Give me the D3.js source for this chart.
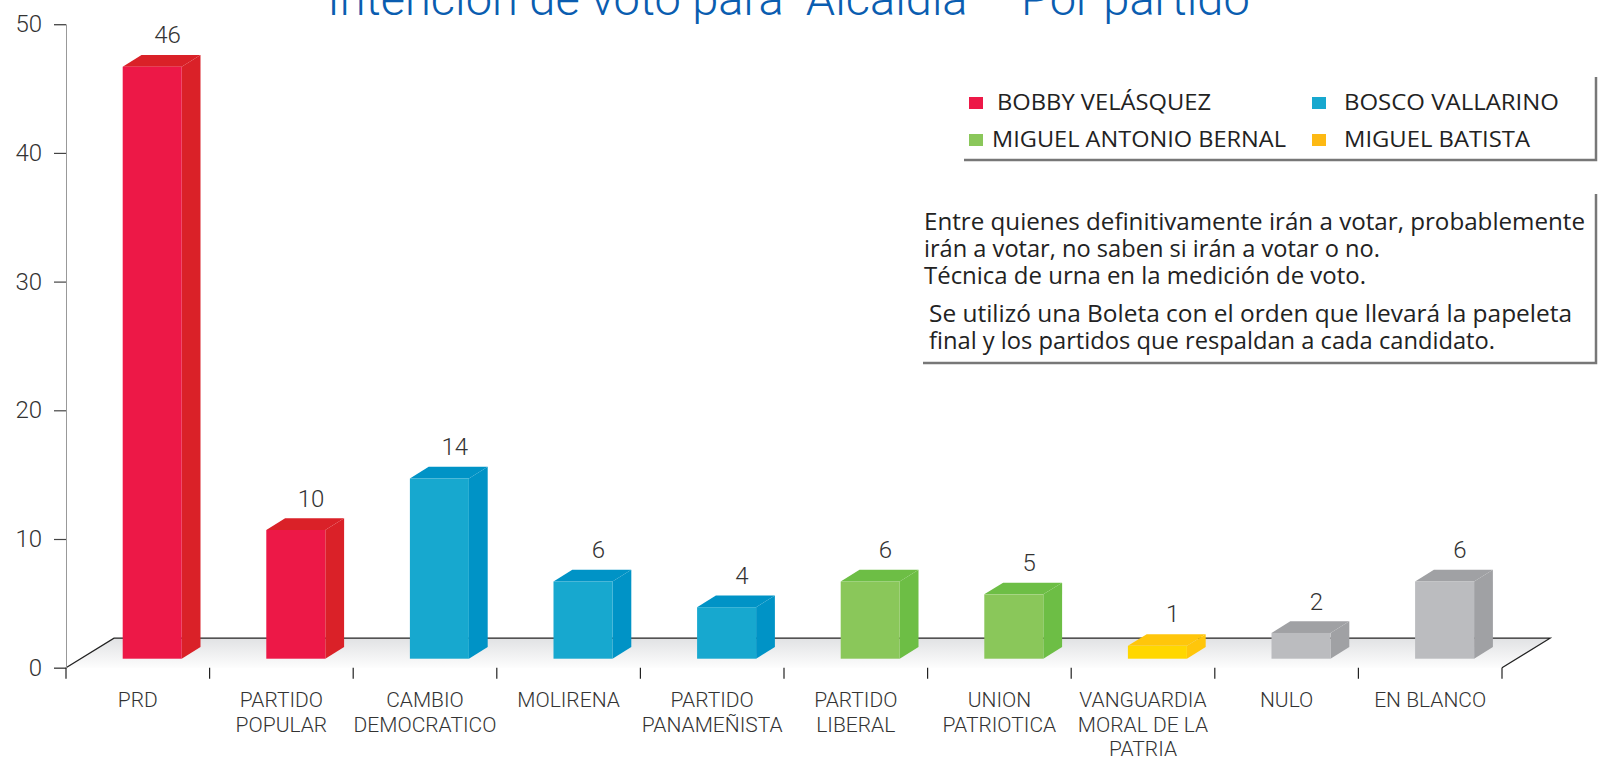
<!DOCTYPE html>
<html><head><meta charset="utf-8">
<script src="https://cdn.jsdelivr.net/npm/d3@7"></script>
<style>body{margin:0;background:#fff;overflow:hidden}</style>
</head><body><svg id="c" width="1603" height="761"></svg>
<script>
const title = 'Intención de voto para "Alcaldía – Por partido';
const categories = ["PRD","PARTIDO\nPOPULAR","CAMBIO\nDEMOCRATICO","MOLIRENA","PARTIDO\nPANAMEÑISTA","PARTIDO\nLIBERAL","UNION\nPATRIOTICA","VANGUARDIA\nMORAL DE LA\nPATRIA","NULO","EN BLANCO"];
const values = [46,10,14,6,4,6,5,1,2,6];
const candidates = ["BOBBY VELÁSQUEZ","BOSCO VALLARINO","MIGUEL ANTONIO BERNAL","MIGUEL BATISTA"];
const barCandidate = [0,0,1,1,1,2,2,3,4,4];
const yTicks = [0,10,20,30,40,50];
const noteLines = [
  "Entre quienes definitivamente irán a votar, probablemente",
  "irán a votar, no saben si irán a votar o no.",
  "Técnica de urna en la medición de voto.",
  "Se utilizó una Boleta con el orden que llevará la papeleta",
  "final y los partidos que respaldan a cada candidato."
];

const frontCol = ["#ED1847","#17A8CF","#8AC75A","#FFD700","#BBBCBF"];
const sideCol  = ["#DA2128","#0093C6","#6DBE45","#FFC60B","#A0A1A4"];
const legendCol = ["#ED1847","#17A8CF","#8AC75A","#FDB913"];

const svg = d3.select("#c");
const x0 = 66, x1 = 1502;
const y = d3.scaleLinear().domain([0,50]).range([667.7,24.2]);
const x = d3.scaleBand().domain(categories).range([x0,x1]);
const depthX = 48, depthY = 29.5;
const bdx = 18.8, bdy = 11.7;
const lift = 9;
const numFont = "Roboto, 'Liberation Sans', sans-serif";

// floor
const defs = svg.append("defs");
const g = defs.append("linearGradient").attr("id","fl").attr("x1",0).attr("y1",0).attr("x2",0).attr("y2",1);
g.append("stop").attr("offset","0").attr("stop-color","#e1e2e4");
g.append("stop").attr("offset","1").attr("stop-color","#fdfdfd");
const fy = y(0);
const floorD = `M${x0},${fy}L${x0+depthX},${fy-depthY}L${x1+depthX},${fy-depthY}L${x1},${fy}`;
svg.append("path").attr("d",floorD+"Z").attr("fill","url(#fl)");
svg.append("path").attr("d",floorD).attr("fill","none").attr("stroke","#222").attr("stroke-width",1.3);

// y axis
const yAxis = d3.axisLeft(y).tickValues(yTicks).tickSize(12).tickPadding(12);
const ya = svg.append("g").attr("transform",`translate(${x0},0)`).call(yAxis);
ya.select(".domain").attr("stroke","#999").attr("stroke-width",1);
ya.selectAll(".tick line").attr("stroke","#444").attr("stroke-width",1.2);
ya.selectAll("text").attr("font-family",numFont).attr("font-weight",300)
  .attr("font-size",24).attr("fill","#333");

// x axis ticks
const xTickPos = categories.map(c=>x(c)).concat([x1]);
svg.append("g").selectAll("line").data(xTickPos).join("line")
  .attr("x1",d=>d).attr("x2",d=>d).attr("y1",fy).attr("y2",fy+11)
  .attr("stroke","#222").attr("stroke-width",1.2);

// x labels
const xl = svg.append("g").selectAll("text").data(categories).join("text")
  .attr("x",d=>x(d)+x.bandwidth()/2).attr("y",707)
  .attr("text-anchor","middle").attr("font-family",numFont)
  .attr("font-weight",300).attr("font-size",21).attr("fill","#333");
xl.each(function(d){
  const t = d3.select(this);
  d.split("\n").forEach((s,i)=>{
    t.append("tspan").attr("x",x(d)+x.bandwidth()/2).attr("dy",i?24.5:0).text(s);
  });
});

// bars
const bw = 59, boff = 56.7;
const bars = svg.append("g").selectAll("g").data(categories).join("g");
bars.each(function(c,i){
  const gg = d3.select(this);
  const bx = x(c)+boff;
  const base = y(0)-lift;
  const top = y(values[i])-lift;
  const k = barCandidate[i];
  gg.append("path").attr("d",`M${bx},${top}L${bx+bdx},${top-bdy}L${bx+bw+bdx},${top-bdy}L${bx+bw},${top}Z`).attr("fill",sideCol[k]);
  gg.append("path").attr("d",`M${bx+bw},${top}L${bx+bw+bdx},${top-bdy}L${bx+bw+bdx},${base-bdy}L${bx+bw},${base}Z`).attr("fill",sideCol[k]);
  gg.append("rect").attr("x",bx).attr("y",top).attr("width",bw).attr("height",base-top).attr("fill",frontCol[k]);
  gg.append("text").attr("x",bx+bw/2+15.3).attr("y",top-bdy-11.7)
    .attr("text-anchor","middle").attr("font-family",numFont)
    .attr("font-weight",300).attr("font-size",24).attr("fill","#333").text(values[i]);
});

// title
svg.append("text").attr("x",788.5).attr("y",15).attr("text-anchor","middle")
  .attr("font-family",numFont).attr("font-weight",300)
  .attr("font-size",47).attr("fill","#0A5DB0").text(title);

// legend
const lf = "'Open Sans', 'Noto Sans', sans-serif";
const legPos = [[969,997,110,214],[1312,1344,110,215],[969,992,147,294],[1312,1344,147,186]];
const leg = svg.append("g");
candidates.forEach((c,i)=>{
  const p = legPos[i];
  leg.append("rect").attr("x",p[0]).attr("y",p[2]-13).attr("width",14).attr("height",12).attr("fill",legendCol[i]);
  leg.append("text").attr("x",p[1]).attr("y",p[2]).attr("font-family",lf).attr("font-size",22)
    .attr("textLength",p[3]).attr("lengthAdjust","spacingAndGlyphs")
    .attr("fill","#222").text(c);
});
leg.append("path").attr("d","M964,160L1596,160L1596,77").attr("fill","none").attr("stroke","#777").attr("stroke-width",2.5);

// note
const noteY = [230,257,284,322,349];
const noteX = [924,924,924,929,929];
const noteW = [661,456,442,643,566];
const note = svg.append("g");
noteLines.forEach((s,i)=>{
  note.append("text").attr("x",noteX[i]).attr("y",noteY[i]).attr("font-family",lf)
    .attr("font-size",23).attr("fill","#222")
    .attr("textLength",noteW[i]).attr("lengthAdjust","spacingAndGlyphs").text(s);
});
note.append("path").attr("d","M923,363L1596,363L1596,194").attr("fill","none").attr("stroke","#777").attr("stroke-width",2.5);
</script></body></html>
